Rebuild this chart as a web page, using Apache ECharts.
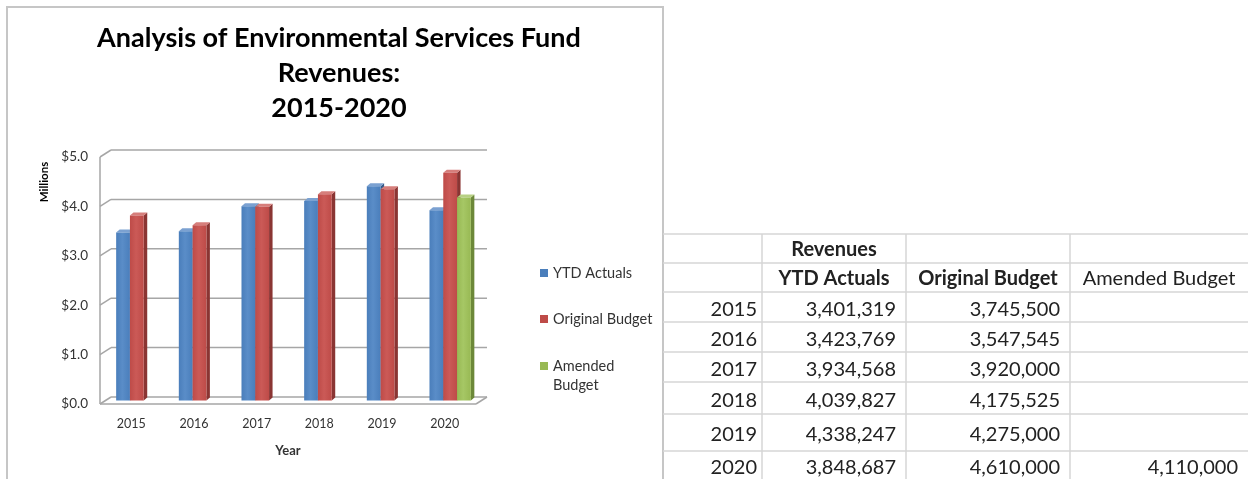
<!DOCTYPE html>
<html>
<head>
<meta charset="utf-8">
<title>Environmental Services Fund Revenues 2015-2020</title>
<script src="https://cdn.jsdelivr.net/npm/echarts@6/dist/echarts.min.js"></script>
<style>
  html, body { margin: 0; padding: 0; background: #ffffff; }
  #main { width: 1248px; height: 479px; }
</style>
</head>
<body>
<div id="main"></div>
<script>
// ---- data ----
const years = ['2015', '2016', '2017', '2018', '2019', '2020'];
const ytdActuals = [3401319, 3423769, 3934568, 4039827, 4338247, 3848687];
const originalBudget = [3745500, 3547545, 3920000, 4175525, 4275000, 4610000];
const amendedBudget = [null, null, null, null, null, 4110000];
const seriesNames = ['YTD Actuals', 'Original Budget', 'Amended Budget'];
const yTicks = [0, 1, 2, 3, 4, 5];
const yTickLabels = ['$0.0', '$1.0', '$2.0', '$3.0', '$4.0', '$5.0'];
const titleLines = ['Analysis of Environmental Services Fund', 'Revenues:', '2015-2020'];
const tableHeaderTop = ['', 'Revenues', '', ''];
const tableHeader = ['', 'YTD Actuals', 'Original Budget', 'Amended Budget'];

// ---- layout & style ----
const FONT = 'Lato, "Open Sans", sans-serif';
const TEXT = '#333333';
const PLOT = { left: 100, top: 157, width: 376, height: 247 };
const DEPTH = { dx: 11, dy: -7 };        // front plane -> back wall
const BAR_SHIFT = { dx: 5.5, dy: -3.5 }; // bars sit at mid depth
const BAR_SIDE = { dx: 3.5, dy: -3 };
const BAR_FRACTION = 0.22;
const WALL_COLOR = '#A6A6A6';
const PALETTE = [
  { front: '#4A7EBB', light: '#5A8DC8', side: '#345A88', top: '#7BA1D1' },
  { front: '#BE4B48', light: '#CB5A57', side: '#8A3533', top: '#D67E7B' },
  { front: '#98B954', light: '#A6C765', side: '#6C8839', top: '#B7D083' }
];
const TABLE_COLS = [663, 762, 906, 1070, 1248];
const TABLE_ROWS = [234, 263, 292, 322, 352, 382, 414, 451, 479];
const TABLE_FONT_SIZE = 20;
const TABLE_LINE = '#D6D6D6';

const fmt = v => (v == null ? '' : v.toLocaleString('en-US'));
const toMillions = arr => arr.map((v, i) => [i, v == null ? null : v / 1e6]);

// back wall, side wall and floor edges, drawn from the value axis ticks
function renderWalls(params, api) {
  const cs = params.coordSys;
  const t = api.value(1);
  const y = api.coord([0, t])[1];
  const left = cs.x, right = cs.x + cs.width;
  const ls = { stroke: WALL_COLOR, lineWidth: 1.5 };
  const children = [
    { type: 'line', shape: { x1: left + DEPTH.dx, y1: y + DEPTH.dy, x2: right + DEPTH.dx, y2: y + DEPTH.dy }, style: ls },
    { type: 'line', shape: { x1: left, y1: y, x2: left + DEPTH.dx, y2: y + DEPTH.dy }, style: ls }
  ];
  if (t === yTicks[0]) {
    const yTop = api.coord([0, yTicks[yTicks.length - 1]])[1];
    children.push(
      { type: 'line', shape: { x1: left, y1: y, x2: right, y2: y }, style: ls },
      { type: 'line', shape: { x1: right, y1: y, x2: right + DEPTH.dx, y2: y + DEPTH.dy }, style: ls },
      { type: 'line', shape: { x1: left, y1: y, x2: left, y2: yTop }, style: ls }
    );
  }
  return { type: 'group', children };
}

// 3-D style column: front face, right side and top
function barRenderer(k) {
  const c = PALETTE[k];
  return function (params, api) {
    const v = api.value(1);
    if (v == null || isNaN(v)) return null;
    const idx = api.value(0);
    const base = api.coord([idx, 0]);
    const top = api.coord([idx, v]);
    const w = api.size([1, 0])[0] * BAR_FRACTION;
    const cx = base[0] + BAR_SHIFT.dx + (k - 1) * w;
    const x0 = cx - w / 2, x1 = cx + w / 2;
    const yb = base[1] + BAR_SHIFT.dy, yt = top[1] + BAR_SHIFT.dy;
    const sx = BAR_SIDE.dx, sy = BAR_SIDE.dy;
    return {
      type: 'group',
      children: [
        { type: 'polygon', shape: { points: [[x1, yt], [x1 + sx, yt + sy], [x1 + sx, yb + sy], [x1, yb]] }, style: { fill: c.side } },
        { type: 'polygon', shape: { points: [[x0, yt], [x0 + sx, yt + sy], [x1 + sx, yt + sy], [x1, yt]] }, style: { fill: c.top } },
        {
          type: 'rect', shape: { x: x0, y: yt, width: w, height: yb - yt },
          style: {
            fill: new echarts.graphic.LinearGradient(0, 0, 1, 0, [
              { offset: 0, color: c.front }, { offset: 0.45, color: c.light }, { offset: 1, color: c.front }
            ])
          }
        }
      ]
    };
  };
}

// legend built from the series names and colours
function legendGraphics() {
  const tops = [273, 319, 366];
  const out = [];
  seriesNames.forEach((name, i) => {
    out.push({ type: 'rect', left: 540, top: tops[i] - 4, shape: { width: 8, height: 8 }, style: { fill: PALETTE[i].front } });
    const label = name === 'Amended Budget' ? 'Amended\nBudget' : name;
    out.push({
      type: 'text', left: 553, top: tops[i] - 9,
      style: { text: label, font: '14.5px ' + FONT, fill: TEXT, lineHeight: 19 }
    });
  });
  return out;
}

// data table to the right of the chart
function tableGraphics() {
  const out = [];
  const cols = TABLE_COLS, rows = TABLE_ROWS;
  rows.slice(0, rows.length - 1).forEach(y => {
    out.push({ type: 'line', shape: { x1: cols[0], y1: y, x2: cols[4], y2: y }, style: { stroke: TABLE_LINE, lineWidth: 1.5 } });
  });
  [cols[1], cols[2], cols[3]].forEach(x => {
    out.push({ type: 'line', shape: { x1: x, y1: rows[0], x2: x, y2: rows[rows.length - 1] }, style: { stroke: TABLE_LINE, lineWidth: 1.5 } });
  });
  const cell = (text, col, row, align, bold) => {
    const yMid = (rows[row] + rows[row + 1]) / 2 + (row > 1 ? 2.5 : 1);
    let x;
    if (align === 'center') x = (cols[col] + cols[col + 1]) / 2;
    else x = cols[col + 1] - (col === 0 ? 5 : 10);
    out.push({
      type: 'text', x: x, y: yMid,
      style: {
        text: text, align: align, verticalAlign: 'middle',
        font: (bold ? 'bold ' : '') + TABLE_FONT_SIZE + 'px ' + FONT, fill: '#222222'
      }
    });
  };
  tableHeaderTop.forEach((t, c) => { if (t) cell(t, c, 0, 'center', true); });
  tableHeader.forEach((t, c) => { if (t) cell(t, c, 1, 'center', c !== 3); });
  years.forEach((yr, r) => {
    cell(yr, 0, r + 2, 'right', false);
    cell(fmt(ytdActuals[r]), 1, r + 2, 'right', false);
    cell(fmt(originalBudget[r]), 2, r + 2, 'right', false);
    if (amendedBudget[r] != null) cell(fmt(amendedBudget[r]), 3, r + 2, 'right', false);
  });
  return out;
}

const chart = echarts.init(document.getElementById('main'), null, { renderer: 'canvas' });

chart.setOption({
  backgroundColor: '#ffffff',
  animation: false,
  textStyle: { fontFamily: FONT },
  title: {
    text: titleLines.join('\n'),
    left: 334, top: 16, textAlign: 'center',
    textStyle: { fontFamily: FONT, fontSize: 27, fontWeight: 'bold', color: '#000000', lineHeight: 35 }
  },
  grid: { left: PLOT.left, top: PLOT.top, width: PLOT.width, height: PLOT.height },
  xAxis: {
    type: 'category', data: years,
    name: 'Year', nameLocation: 'middle', nameGap: 40,
    nameTextStyle: { fontFamily: FONT, fontSize: 13, fontWeight: 'bold', color: TEXT },
    axisLine: { show: false }, axisTick: { show: false },
    axisLabel: { fontFamily: FONT, fontSize: 12.5, color: TEXT, margin: 13 },
    splitLine: { show: false }
  },
  yAxis: {
    type: 'value', min: 0, max: 5, interval: 1,
    axisLine: { show: false }, axisTick: { show: false }, splitLine: { show: false },
    axisLabel: {
      fontFamily: FONT, fontSize: 13.5, color: TEXT, margin: 12,
      formatter: v => yTickLabels[yTicks.indexOf(v)]
    }
  },
  series: [
    { type: 'custom', name: 'walls', z: 1, silent: true, renderItem: renderWalls, data: yTicks.map(t => [0, t]) },
    { type: 'custom', name: seriesNames[0], z: 2, renderItem: barRenderer(0), data: toMillions(ytdActuals) },
    { type: 'custom', name: seriesNames[1], z: 2, renderItem: barRenderer(1), data: toMillions(originalBudget) },
    { type: 'custom', name: seriesNames[2], z: 2, renderItem: barRenderer(2), data: toMillions(amendedBudget) }
  ],
  graphic: [
    { type: 'rect', shape: { x: 7, y: 7, width: 656, height: 490 }, style: { fill: null, stroke: '#C6C6C6', lineWidth: 2 }, z: 0 },
    {
      type: 'text', x: 44, y: 182, rotation: Math.PI / 2,
      style: { text: 'Millions', font: 'bold 11.5px ' + FONT, fill: '#000000', align: 'center', verticalAlign: 'middle' }
    },
    ...legendGraphics(),
    ...tableGraphics()
  ]
});
</script>
</body>
</html>
